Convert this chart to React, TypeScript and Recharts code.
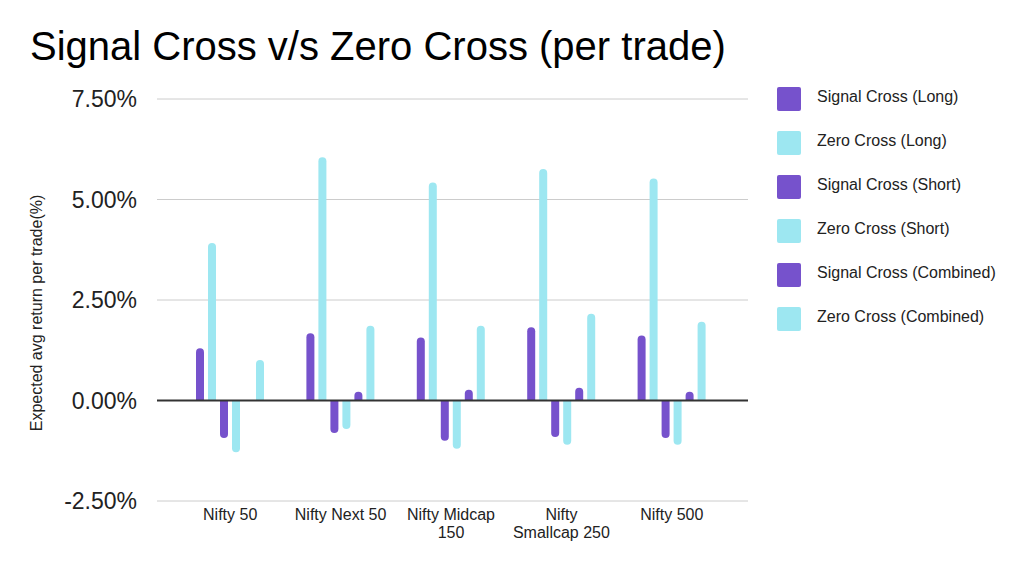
import { BarChart, Bar, XAxis, YAxis, CartesianGrid, ReferenceLine, Text } from 'recharts';

// categories and series values (in %)
const categories = ['Nifty 50', 'Nifty Next 50', 'Nifty Midcap 150', 'Nifty Smallcap 250', 'Nifty 500'];
const signalLong = [1.3, 1.67, 1.57, 1.82, 1.62];
const zeroLong = [3.92, 6.05, 5.42, 5.76, 5.52];
const signalShort = [-0.93, -0.81, -1.0, -0.91, -0.93];
const zeroShort = [-1.29, -0.71, -1.2, -1.1, -1.1];
const signalCombined = [0, 0.22, 0.27, 0.32, 0.22];
const zeroCombined = [1.01, 1.86, 1.86, 2.16, 1.96];
const yTicks = [-2.5, 0, 2.5, 5, 7.5];

const PURPLE = '#7652cc';
const CYAN = '#9de7f1';

const series = [
  { key: 'signalLong', name: 'Signal Cross (Long)', values: signalLong, color: PURPLE },
  { key: 'zeroLong', name: 'Zero Cross (Long)', values: zeroLong, color: CYAN },
  { key: 'signalShort', name: 'Signal Cross (Short)', values: signalShort, color: PURPLE },
  { key: 'zeroShort', name: 'Zero Cross (Short)', values: zeroShort, color: CYAN },
  { key: 'signalCombined', name: 'Signal Cross (Combined)', values: signalCombined, color: PURPLE },
  { key: 'zeroCombined', name: 'Zero Cross (Combined)', values: zeroCombined, color: CYAN },
];

const data = categories.map((name, i) => {
  const row: Record<string, string | number> = { name };
  series.forEach((s) => {
    row[s.key] = s.values[i];
  });
  return row;
});

const FONT = '"Liberation Sans", Arial, sans-serif';

function CategoryTick(props: any) {
  const { x, y, payload } = props;
  // font goes in style so Text measures words with the same font it draws
  return (
    <Text
      x={x}
      y={y}
      dy={0}
      width={99.5}
      lineHeight={18}
      textAnchor="middle"
      verticalAnchor="start"
      fill="#222"
      style={{ fontSize: 16, fontFamily: FONT }}
    >
      {payload.value}
    </Text>
  );
}

// rotated y-axis title, sitting a little below the plot's middle like the reference
function YTitle(props: any) {
  const { viewBox } = props;
  const cx = 36;
  const cy = viewBox.y + viewBox.height / 2 + 13;
  return (
    <text
      x={cx}
      y={cy}
      transform={`rotate(-90, ${cx}, ${cy})`}
      textAnchor="middle"
      dominantBaseline="central"
      fontSize={16}
      fill="#222"
      fontFamily={FONT}
    >
      Expected avg return per trade(%)
    </text>
  );
}

export default function App() {
  return (
    <div style={{ position: 'relative', width: 1024, height: 570, background: '#fff', fontFamily: FONT }}>
      <style>{`body{margin:0}`}</style>
      <div style={{ position: 'absolute', left: 30, top: 24, fontSize: 40, color: '#000', whiteSpace: 'nowrap' }}>
        Signal Cross v/s Zero Cross (per trade)
      </div>

      <BarChart
        width={1024}
        height={570}
        data={data}
        margin={{ top: 99, right: 276, bottom: 39, left: 0 }}
        barSize={8}
        barGap={4}
      >
        <CartesianGrid vertical={false} stroke="#cccccc" />
        <XAxis
          dataKey="name"
          axisLine={false}
          tickLine={false}
          interval={0}
          padding={{ left: 18, right: 21 }}
          tick={<CategoryTick />}
        />
        <YAxis
          width={157}
          domain={[-2.5, 7.5]}
          ticks={yTicks}
          axisLine={false}
          tickLine={false}
          tickMargin={14}
          tick={{ fontSize: 23, fill: '#222', fontFamily: FONT }}
          tickFormatter={(v: number) => `${v.toFixed(2)}%`}
          label={<YTitle />}
        />
        {series.map((s) => (
          <Bar
            key={s.key}
            dataKey={s.key}
            name={s.name}
            fill={s.color}
            radius={[4, 4, 0, 0]}
            isAnimationActive={false}
          />
        ))}
        <ReferenceLine y={0} stroke="#333" strokeWidth={2} />
      </BarChart>

      <div style={{ position: 'absolute', left: 777, top: 87 }}>
        {series.map((s) => (
          <div key={s.key} style={{ display: 'flex', alignItems: 'center', height: 24, marginBottom: 20 }}>
            <div style={{ width: 24, height: 24, borderRadius: 2, background: s.color }} />
            <span style={{ marginLeft: 16, fontSize: 16, color: '#222', marginTop: -5 }}>{s.name}</span>
          </div>
        ))}
      </div>
    </div>
  );
}
